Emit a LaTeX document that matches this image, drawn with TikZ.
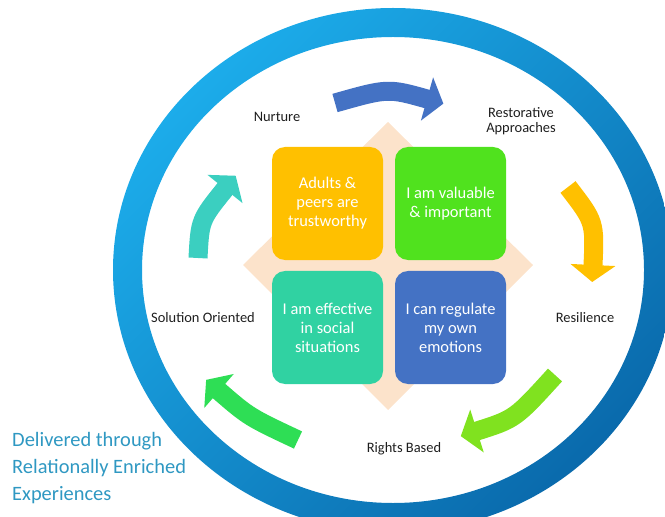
\documentclass[tikz,border=0pt]{standalone}
\usepackage{fontspec}
\setmainfont{Carlito}
\usetikzlibrary{calc}

\definecolor{ringLight}{HTML}{1CACEA}
\definecolor{ringDark}{HTML}{0A6AAC}
\definecolor{peach}{HTML}{FCE3CB}
\definecolor{boxOrange}{HTML}{FFC000}
\definecolor{boxGreen}{HTML}{50E21E}
\definecolor{boxTeal}{HTML}{30D2A2}
\definecolor{boxBlue}{HTML}{4472C4}
\definecolor{arrLime}{HTML}{80E21F}
\definecolor{arrGreen}{HTML}{2EDE55}
\definecolor{arrTeal}{HTML}{3BCFC0}
\definecolor{labelInk}{HTML}{1E1E1E}
\definecolor{noteInk}{HTML}{2F98C2}

\tikzset{
  quad/.style={rounded corners=13bp, minimum width=111bp, minimum height=113bp,
    inner sep=0pt, align=center, text=white,
    font=\fontsize{16.5}{19}\selectfont},
  lbl/.style={inner sep=0pt, text=labelInk, align=center,
    font=\fontsize{14.5}{15.5}\selectfont},
  note/.style={inner sep=0pt, text=noteInk, align=left,
    font=\fontsize{20.5}{26.8}\selectfont},
  shaft/.style={line width=19bp, line cap=butt}
}

% curved block arrow: #1 name prefix, #2 colour, #3 start, #4 control, #5 head base
\newcommand{\blockarrow}[5]{%
  \coordinate (#1s) at #3;
  \coordinate (#1c) at #4;
  \coordinate (#1b) at #5;
  \coordinate (#1t) at ($(#1b)!-17bp!(#1c)$);
  \coordinate (#1l) at ($(#1b)!22.5bp!90:(#1c)$);
  \coordinate (#1r) at ($(#1b)!22.5bp!-90:(#1c)$);
  \draw[shaft, #2] (#1s) .. controls (#1c) .. ($(#1b)!-1bp!(#1c)$);
  \fill[#2] (#1l) -- (#1t) -- (#1r) -- cycle;
}

\begin{document}
\begin{tikzpicture}[x=1bp, y=-1bp]
  \useasboundingbox (0,0) rectangle (665,517);

  % outer blue ring, clipped at the page edge
  \begin{scope}
    \clip (0,0) rectangle (665,517);
    \shade[even odd rule, top color=ringLight, bottom color=ringDark, shading angle=45]
      (393,270) ellipse [x radius=280, y radius=262]
      (393,270) ellipse [x radius=251, y radius=233];
  \end{scope}

  % peach diamond behind the four squares
  \fill[peach] (388,122) -- (533,265) -- (388,410) -- (243,265) -- cycle;

  % the four squares
  \node[quad, fill=boxOrange] (trust) at (327.5,203.5) {Adults \&\\peers are\\trustworthy};
  \node[quad, fill=boxGreen] (valuable) at (450.5,203.5) {I am valuable\\\& important};
  \node[quad, fill=boxTeal] (effective) at (327.5,327.5) {I am effective\\in social\\situations};
  \node[quad, fill=boxBlue] (regulate) at (450.5,327.5) {I can regulate\\my own\\emotions};

  % stage labels
  \node[lbl] (nurture) at (277,117) {Nurture};
  \node[lbl] (restorative) at (521,121) {Restorative\\Approaches};
  \node[lbl] (resilience) at (585,318) {Resilience};
  \node[lbl] (rights) at (404,449) {Rights Based};
  \node[lbl] (solution) at (203,318) {Solution Oriented};

  % footnote text
  \node[note, anchor=west] (delivered) at (12,468) {Delivered through\\Relationally Enriched\\Experiences};

  % curved cycle arrows
  \blockarrow{a1}{boxBlue}{(335,103)}{(388,88)}{(427,99)}
  \blockarrow{a2}{boxOrange}{(568,187)}{(595,222)}{(593,265)}
  \blockarrow{a3}{arrLime}{(555,375)}{(515,419)}{(477,431)}
  \blockarrow{a4}{arrGreen}{(298,440)}{(249,417)}{(219,391)}
  \blockarrow{a5}{arrTeal}{(198,258)}{(200,220)}{(225,189)}
\end{tikzpicture}
\end{document}
